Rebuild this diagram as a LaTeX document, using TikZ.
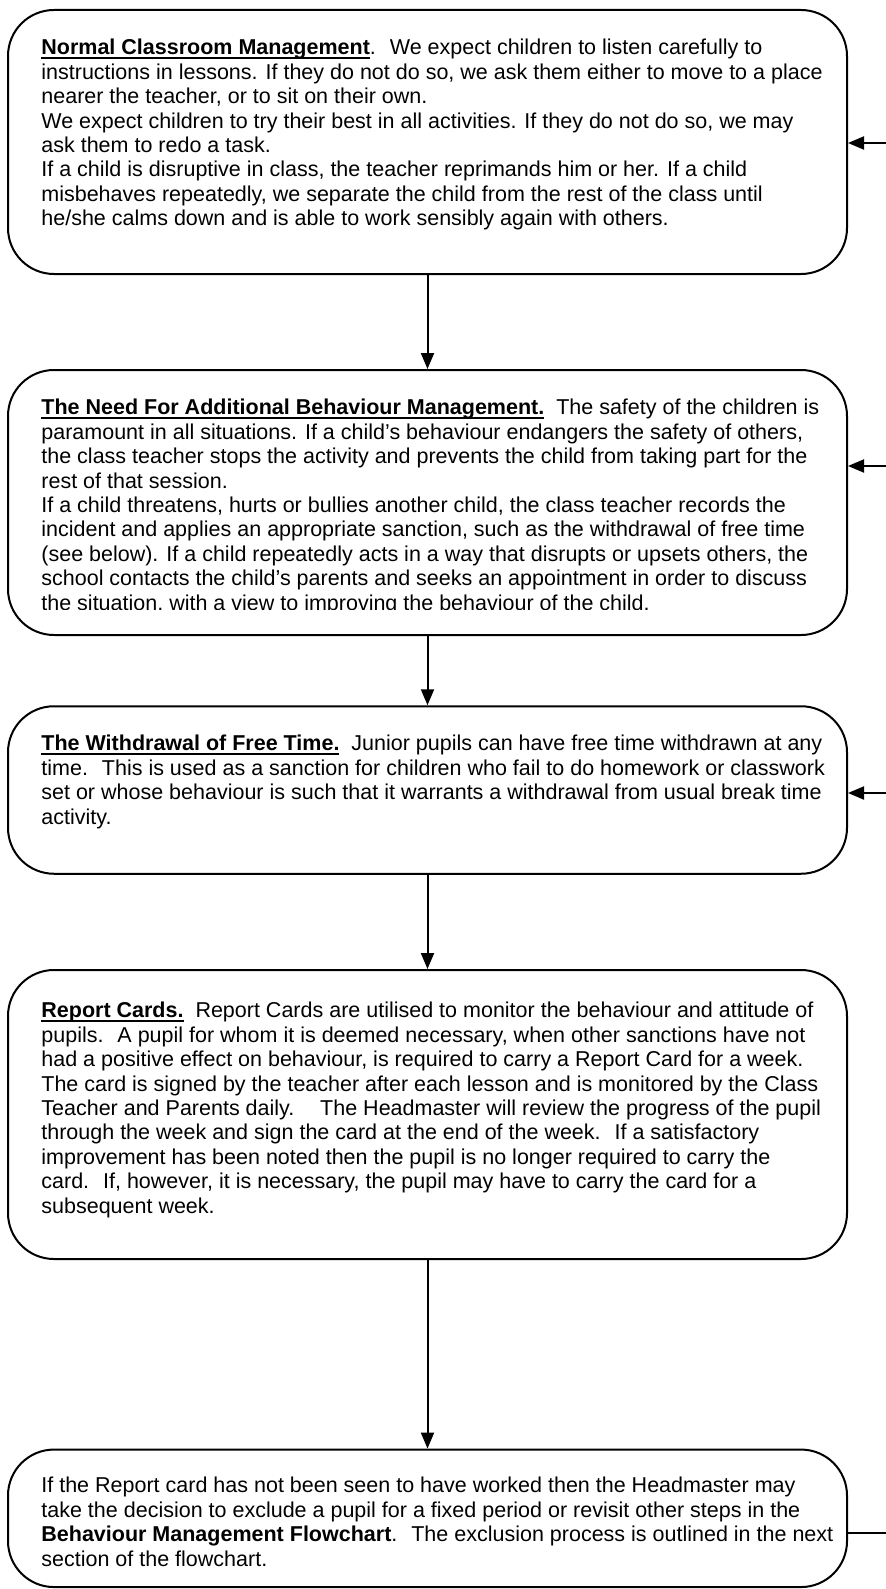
\documentclass[tikz,border=0pt]{standalone}
\usepackage{fontspec}
\setmainfont{Liberation Sans}
\usetikzlibrary{arrows.meta}
\tikzset{
  flowbox/.style={draw, line width=1pt, rounded corners=23pt,
    minimum width=419.5pt, inner sep=0pt},
  flowtext/.style={anchor=north west, inner sep=0pt, align=left,
    font=\fontsize{10.75pt}{12.2pt}\selectfont},
  flowarrow/.style={line width=1pt, -{Triangle[length=8pt,width=6.5pt]}},
  flowline/.style={line width=1pt}
}
% bold heading with a close underline
\newcommand\heading[1]{\setbox0\hbox{\bfseries #1}%
  \rlap{\rule[-1.9pt]{\wd0}{0.8pt}}\box0}

\begin{document}
\begin{tikzpicture}[x=0.5pt,y=-0.5pt]
\useasboundingbox (0,0) rectangle (886,1589);

% the five boxes
\node[flowbox, minimum height=132pt]   (normal)     at (427.5,142)    {};
\node[flowbox, minimum height=132.5pt] (additional) at (427.5,502.5)  {};
\node[flowbox, minimum height=83.75pt] (withdrawal) at (427.5,790)    {};
\node[flowbox, minimum height=144.5pt] (report)     at (427.5,1114.5) {};
\node[flowbox, minimum height=68.75pt] (exclusion)  at (427.5,1518.3) {};

% texts
\node[flowtext] (normaltext) at (41,39) {%
\heading{Normal Classroom Management}.~ We expect children to listen carefully to\\
instructions in lessons. If they do not do so, we ask them either to move to a place\\
nearer the teacher, or to sit on their own.\\
We expect children to try their best in all activities. If they do not do so, we may\\
ask them to redo a task.\\
If a child is disruptive in class, the teacher reprimands him or her. If a child\\
misbehaves repeatedly, we separate the child from the rest of the class until\\
he/she calms down and is able to work sensibly again with others.};

\begin{scope}
\clip (0,370) rectangle (886,609);
\node[flowtext] (additionaltext) at (41,399) {%
\heading{The Need For Additional Behaviour Management.}~ The safety of the children is\\
paramount in all situations. If a child's behaviour endangers the safety of others,\\
the class teacher stops the activity and prevents the child from taking part for the\\
rest of that session.\\
If a child threatens, hurts or bullies another child, the class teacher records the\\
incident and applies an appropriate sanction, such as the withdrawal of free time\\
(see below). If a child repeatedly acts in a way that disrupts or upsets others, the\\
school contacts the child's parents and seeks an appointment in order to discuss\\
the situation, with a view to improving the behaviour of the child.};
\end{scope}

\node[flowtext] (withdrawaltext) at (41,735) {%
\heading{The Withdrawal of Free Time.}~ Junior pupils can have free time withdrawn at any\\
time.~ This is used as a sanction for children who fail to do homework or classwork\\
set or whose behaviour is such that it warrants a withdrawal from usual break time\\
activity.};

\node[flowtext] (reporttext) at (41,1002) {%
\heading{Report Cards.}~ Report Cards are utilised to monitor the behaviour and attitude of\\
pupils.~ A pupil for whom it is deemed necessary, when other sanctions have not\\
had a positive effect on behaviour, is required to carry a Report Card for a week.\\
The card is signed by the teacher after each lesson and is monitored by the Class\\
Teacher and Parents daily.~~~ The Headmaster will review the progress of the pupil\\
through the week and sign the card at the end of the week.~ If a satisfactory\\
improvement has been noted then the pupil is no longer required to carry the\\
card.~ If, however, it is necessary, the pupil may have to carry the card for a\\
subsequent week.};

\node[flowtext] (exclusiontext) at (41,1477) {%
If the Report card has not been seen to have worked then the Headmaster may\\
take the decision to exclude a pupil for a fixed period or revisit other steps in the\\
\textbf{Behaviour Management Flowchart}.~ The exclusion process is outlined in the next\\
section of the flowchart.};

% down the chart
\draw[flowarrow] (normal) -- (additional);
\draw[flowarrow] (additional) -- (withdrawal);
\draw[flowarrow] (withdrawal) -- (report);
\draw[flowarrow] (report) -- (exclusion);

% loose ends on the right
\coordinate (backA) at (886,143);
\coordinate (backB) at (886,466);
\coordinate (backC) at (886,793);
\coordinate (outE)  at (886,1533);
\draw[flowarrow] (backA) -- (backA -| normal.east);
\draw[flowarrow] (backB) -- (backB -| additional.east);
\draw[flowarrow] (backC) -- (backC -| withdrawal.east);
\draw[flowline] (outE -| exclusion.east) -- (outE);
\end{tikzpicture}
\end{document}
